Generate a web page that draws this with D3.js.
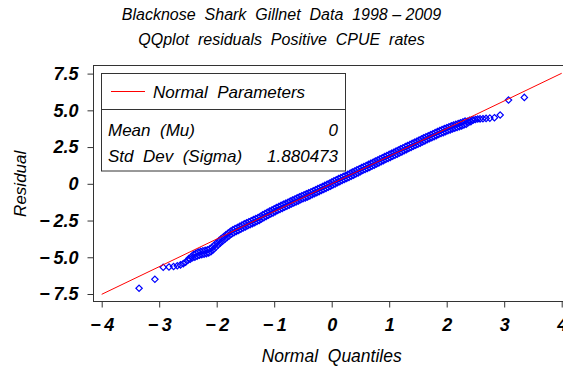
<!DOCTYPE html>
<html>
<head>
<meta charset="utf-8">
<script src="https://cdn.jsdelivr.net/npm/d3@7"></script>
<style>
  html, body { margin: 0; padding: 0; background: #fff; }
  svg { display: block; }
  text { font-family: "Liberation Sans", Arial, Helvetica, sans-serif; font-style: italic; fill: #000; white-space: pre; }
</style>
</head>
<body>
<svg id="chart" width="563" height="373"></svg>
<script>
// Normal quantiles and the residuals plotted against them
const quantiles = [
  -3.35, -3.075, -2.93, -2.83, -2.75, -2.685, -2.63, -2.58, -2.54, -2.50,
  -2.48, -2.46, -2.44, -2.42, -2.40, -2.38, -2.36, -2.34, -2.32, -2.30,
  -2.28, -2.26, -2.24, -2.22, -2.20, -2.18, -2.16, -2.14, -2.12, -2.10,
  -2.08, -2.06, -2.04, -2.02, -2.00, -1.98, -1.96, -1.94, -1.92, -1.90,
  -1.88, -1.86, -1.84, -1.82, -1.80, -1.78, -1.76, -1.74, -1.72, -1.70,
  -1.68, -1.66, -1.64, -1.62, -1.60, -1.58, -1.56, -1.54, -1.52, -1.50,
  -1.48, -1.46, -1.44, -1.42, -1.40, -1.38, -1.36, -1.34, -1.32, -1.30,
  -1.28, -1.26, -1.24, -1.22, -1.20, -1.18, -1.16, -1.14, -1.12, -1.10,
  -1.08, -1.06, -1.04, -1.02, -1.00, -0.98, -0.96, -0.94, -0.92, -0.90,
  -0.88, -0.86, -0.84, -0.82, -0.80, -0.78, -0.76, -0.74, -0.72, -0.70,
  -0.68, -0.66, -0.64, -0.62, -0.60, -0.58, -0.56, -0.54, -0.52, -0.50,
  -0.48, -0.46, -0.44, -0.42, -0.40, -0.38, -0.36, -0.34, -0.32, -0.30,
  -0.28, -0.26, -0.24, -0.22, -0.20, -0.18, -0.16, -0.14, -0.12, -0.10,
  -0.08, -0.06, -0.04, -0.02, 0.00, 0.02, 0.04, 0.06, 0.08, 0.10,
  0.12, 0.14, 0.16, 0.18, 0.20, 0.22, 0.24, 0.26, 0.28, 0.30,
  0.32, 0.34, 0.36, 0.38, 0.40, 0.42, 0.44, 0.46, 0.48, 0.50,
  0.52, 0.54, 0.56, 0.58, 0.60, 0.62, 0.64, 0.66, 0.68, 0.70,
  0.72, 0.74, 0.76, 0.78, 0.80, 0.82, 0.84, 0.86, 0.88, 0.90,
  0.92, 0.94, 0.96, 0.98, 1.00, 1.02, 1.04, 1.06, 1.08, 1.10,
  1.12, 1.14, 1.16, 1.18, 1.20, 1.22, 1.24, 1.26, 1.28, 1.30,
  1.32, 1.34, 1.36, 1.38, 1.40, 1.42, 1.44, 1.46, 1.48, 1.50,
  1.52, 1.54, 1.56, 1.58, 1.60, 1.62, 1.64, 1.66, 1.68, 1.70,
  1.72, 1.74, 1.76, 1.78, 1.80, 1.82, 1.84, 1.86, 1.88, 1.90,
  1.92, 1.94, 1.96, 1.98, 2.00, 2.02, 2.04, 2.06, 2.08, 2.10,
  2.12, 2.14, 2.16, 2.18, 2.20, 2.22, 2.24, 2.26, 2.28, 2.30,
  2.32, 2.34, 2.36, 2.38, 2.40, 2.42, 2.44, 2.465, 2.50, 2.54,
  2.58, 2.63, 2.685, 2.75, 2.83, 2.93, 3.075, 3.35
];
const residuals = [
  -7.11, -6.50, -5.68, -5.66, -5.63, -5.58, -5.52, -5.43, -5.33, -5.20,
  -5.07, -5.14, -4.96, -5.03, -4.80, -5.00, -4.72, -4.92, -4.65, -4.86,
  -4.60, -4.82, -4.56, -4.79, -4.53, -4.75, -4.49, -4.71, -4.43, -4.62,
  -4.31, -4.48, -4.16, -4.33, -4.01, -4.18, -3.87, -4.04, -3.73, -3.91,
  -3.60, -3.78, -3.47, -3.65, -3.35, -3.53, -3.23, -3.42, -3.13, -3.33,
  -3.05, -3.25, -2.97, -3.17, -2.89, -3.09, -2.81, -3.01, -2.73, -2.94,
  -2.66, -2.86, -2.58, -2.79, -2.51, -2.72, -2.44, -2.65, -2.37, -2.57,
  -2.30, -2.50, -2.21, -2.39, -2.11, -2.31, -2.03, -2.23, -1.94, -2.14,
  -1.86, -2.06, -1.78, -1.98, -1.70, -1.90, -1.62, -1.82, -1.54, -1.74,
  -1.47, -1.67, -1.39, -1.60, -1.32, -1.52, -1.25, -1.45, -1.18, -1.38,
  -1.10, -1.31, -1.03, -1.24, -0.96, -1.17, -0.89, -1.09, -0.82, -1.02,
  -0.75, -0.96, -0.68, -0.89, -0.62, -0.82, -0.55, -0.75, -0.48, -0.68,
  -0.40, -0.61, -0.33, -0.53, -0.26, -0.46, -0.18, -0.38, -0.11, -0.31,
  -0.03, -0.23, 0.04, -0.16, 0.12, -0.08, 0.20, -0.01, 0.27, 0.07,
  0.35, 0.14, 0.42, 0.22, 0.50, 0.29, 0.57, 0.37, 0.65, 0.44,
  0.72, 0.52, 0.80, 0.59, 0.87, 0.67, 0.95, 0.74, 1.02, 0.82,
  1.10, 0.90, 1.17, 0.97, 1.25, 1.05, 1.32, 1.12, 1.40, 1.20,
  1.47, 1.27, 1.55, 1.35, 1.62, 1.42, 1.70, 1.50, 1.77, 1.57,
  1.85, 1.65, 1.92, 1.72, 2.00, 1.80, 2.08, 1.87, 2.15, 1.95,
  2.23, 2.02, 2.30, 2.10, 2.38, 2.17, 2.45, 2.25, 2.53, 2.32,
  2.60, 2.40, 2.68, 2.47, 2.75, 2.55, 2.83, 2.62, 2.90, 2.70,
  2.98, 2.77, 3.05, 2.85, 3.13, 2.92, 3.20, 3.00, 3.27, 3.07,
  3.34, 3.14, 3.41, 3.21, 3.49, 3.28, 3.56, 3.35, 3.63, 3.42,
  3.69, 3.48, 3.76, 3.55, 3.82, 3.61, 3.88, 3.67, 3.94, 3.73,
  4.00, 3.78, 4.05, 3.83, 4.10, 3.89, 4.15, 3.94, 4.21, 4.00,
  4.27, 4.06, 4.26, 4.17, 4.32, 4.23, 4.35, 4.34, 4.38, 4.41,
  4.42, 4.43, 4.45, 4.47, 4.50, 4.68, 5.70, 5.88
];

// Fitted normal reference line
const mu = 0;
const sigma = 1.880473;

// Axis ticks and labels
const xTickValues = [-4, -3, -2, -1, 0, 1, 2, 3, 4];
const xTickLabels = ["\u2212\u20094", "\u2212\u20093", "\u2212\u20092", "\u2212\u20091", "0", "1", "2", "3", "4"];
const yTickValues = [-7.5, -5, -2.5, 0, 2.5, 5, 7.5];
const yTickLabels = ["\u2212\u20097.5", "\u2212\u20095.0", "\u2212\u20092.5", "0", "2.5", "5.0", "7.5"];

const titleLines = ["Blacknose  Shark  Gillnet  Data  1998 \u2013 2009", "QQplot  residuals  Positive  CPUE  rates"];
const xTitle = "Normal  Quantiles";
const yTitle = "Residual";
const legendTitle = "Normal  Parameters";
const legendRows = [["Mean  (Mu)", "0"], ["Std  Dev  (Sigma)", "1.880473"]];

const svg = d3.select("#chart");
const W = 563, H = 373;

// Plot frame
const frame = { left: 93.5, top: 65.5, right: 570, bottom: 301.5 };

const x = d3.scaleLinear().domain([-4, 4]).range([101.7, 561.7]);
const y = d3.scaleLinear().domain([-7.5, 7.5]).range([294, 73.6]);

// Titles
svg.selectAll("text.title").data(titleLines).enter().append("text")
  .attr("class", "title")
  .attr("x", W / 2)
  .attr("y", (d, i) => 20 + i * 25)
  .attr("text-anchor", "middle")
  .style("font-size", "16px")
  .text(d => d);

// Frame
svg.append("rect")
  .attr("x", frame.left).attr("y", frame.top)
  .attr("width", frame.right - frame.left).attr("height", frame.bottom - frame.top)
  .attr("fill", "none").attr("stroke", "#333").attr("stroke-width", 1);

// Axes
const tickFont = sel => sel.style("font-size", "18px").style("font-weight", "bold")
  .style("font-family", "'Liberation Sans', Arial, sans-serif").style("font-style", "italic");

const xAxis = d3.axisBottom(x).tickValues(xTickValues)
  .tickFormat((d, i) => xTickLabels[i]).tickSize(6).tickPadding(11);
const gx = svg.append("g").attr("transform", `translate(0,${frame.bottom})`).call(xAxis);
gx.select(".domain").remove();
gx.selectAll("line").attr("stroke", "#333");
gx.selectAll("text").call(tickFont);

const yAxis = d3.axisLeft(y).tickValues(yTickValues)
  .tickFormat((d, i) => yTickLabels[i]).tickSize(6).tickPadding(9);
const gy = svg.append("g").attr("transform", `translate(${frame.left},0)`).call(yAxis);
gy.select(".domain").remove();
gy.selectAll("line").attr("stroke", "#333");
gy.selectAll("text").call(tickFont);

// Axis titles
svg.append("text")
  .attr("x", (x(-4) + x(4)) / 2).attr("y", 362)
  .attr("text-anchor", "middle").style("font-size", "17.5px")
  .text(xTitle);
svg.append("text")
  .attr("transform", `translate(26,${y(0)}) rotate(-90)`)
  .attr("text-anchor", "middle").style("font-size", "17px")
  .text(yTitle);

// Clip to the plot frame
svg.append("clipPath").attr("id", "plotClip").append("rect")
  .attr("x", frame.left).attr("y", frame.top)
  .attr("width", frame.right - frame.left).attr("height", frame.bottom - frame.top);
const plot = svg.append("g").attr("clip-path", "url(#plotClip)");

// Residual diamonds
const points = quantiles.map((q, i) => ({ q, r: residuals[i] }));
const diamond = d3.symbol().type(d3.symbolDiamond2).size(26);
plot.selectAll("path.pt").data(points).enter().append("path")
  .attr("class", "pt")
  .attr("transform", d => `translate(${x(d.q)},${y(d.r)})`)
  .attr("d", diamond)
  .attr("fill", "none").attr("stroke", "#0000ff").attr("stroke-width", 1.2);

// Normal reference line, drawn over the points
plot.append("line")
  .attr("x1", x(-4)).attr("y1", y(mu + sigma * -4))
  .attr("x2", x(4)).attr("y2", y(mu + sigma * 4))
  .attr("stroke", "#ff0000").attr("stroke-width", 1);

// Legend box
const lg = { x: 101.5, y: 73.5, w: 244, h: 97.5, split: 36 };
const legend = svg.append("g");
legend.append("rect")
  .attr("x", lg.x).attr("y", lg.y).attr("width", lg.w).attr("height", lg.h)
  .attr("fill", "#fff").attr("stroke", "#333").attr("stroke-width", 1);
legend.append("line")
  .attr("x1", lg.x).attr("x2", lg.x + lg.w)
  .attr("y1", lg.y + lg.split).attr("y2", lg.y + lg.split)
  .attr("stroke", "#333");
legend.append("line")
  .attr("x1", 111).attr("x2", 145).attr("y1", 91.5).attr("y2", 91.5)
  .attr("stroke", "#ff0000");
legend.append("text")
  .attr("x", 153).attr("y", 98).style("font-size", "17px")
  .text(legendTitle);
legendRows.forEach((row, i) => {
  const yy = 135.5 + i * 26;
  legend.append("text").attr("x", 108).attr("y", yy)
    .style("font-size", "17px").text(row[0]);
  legend.append("text").attr("x", 338).attr("y", yy).attr("text-anchor", "end")
    .style("font-size", "17px").text(row[1]);
});
</script>
</body>
</html>
